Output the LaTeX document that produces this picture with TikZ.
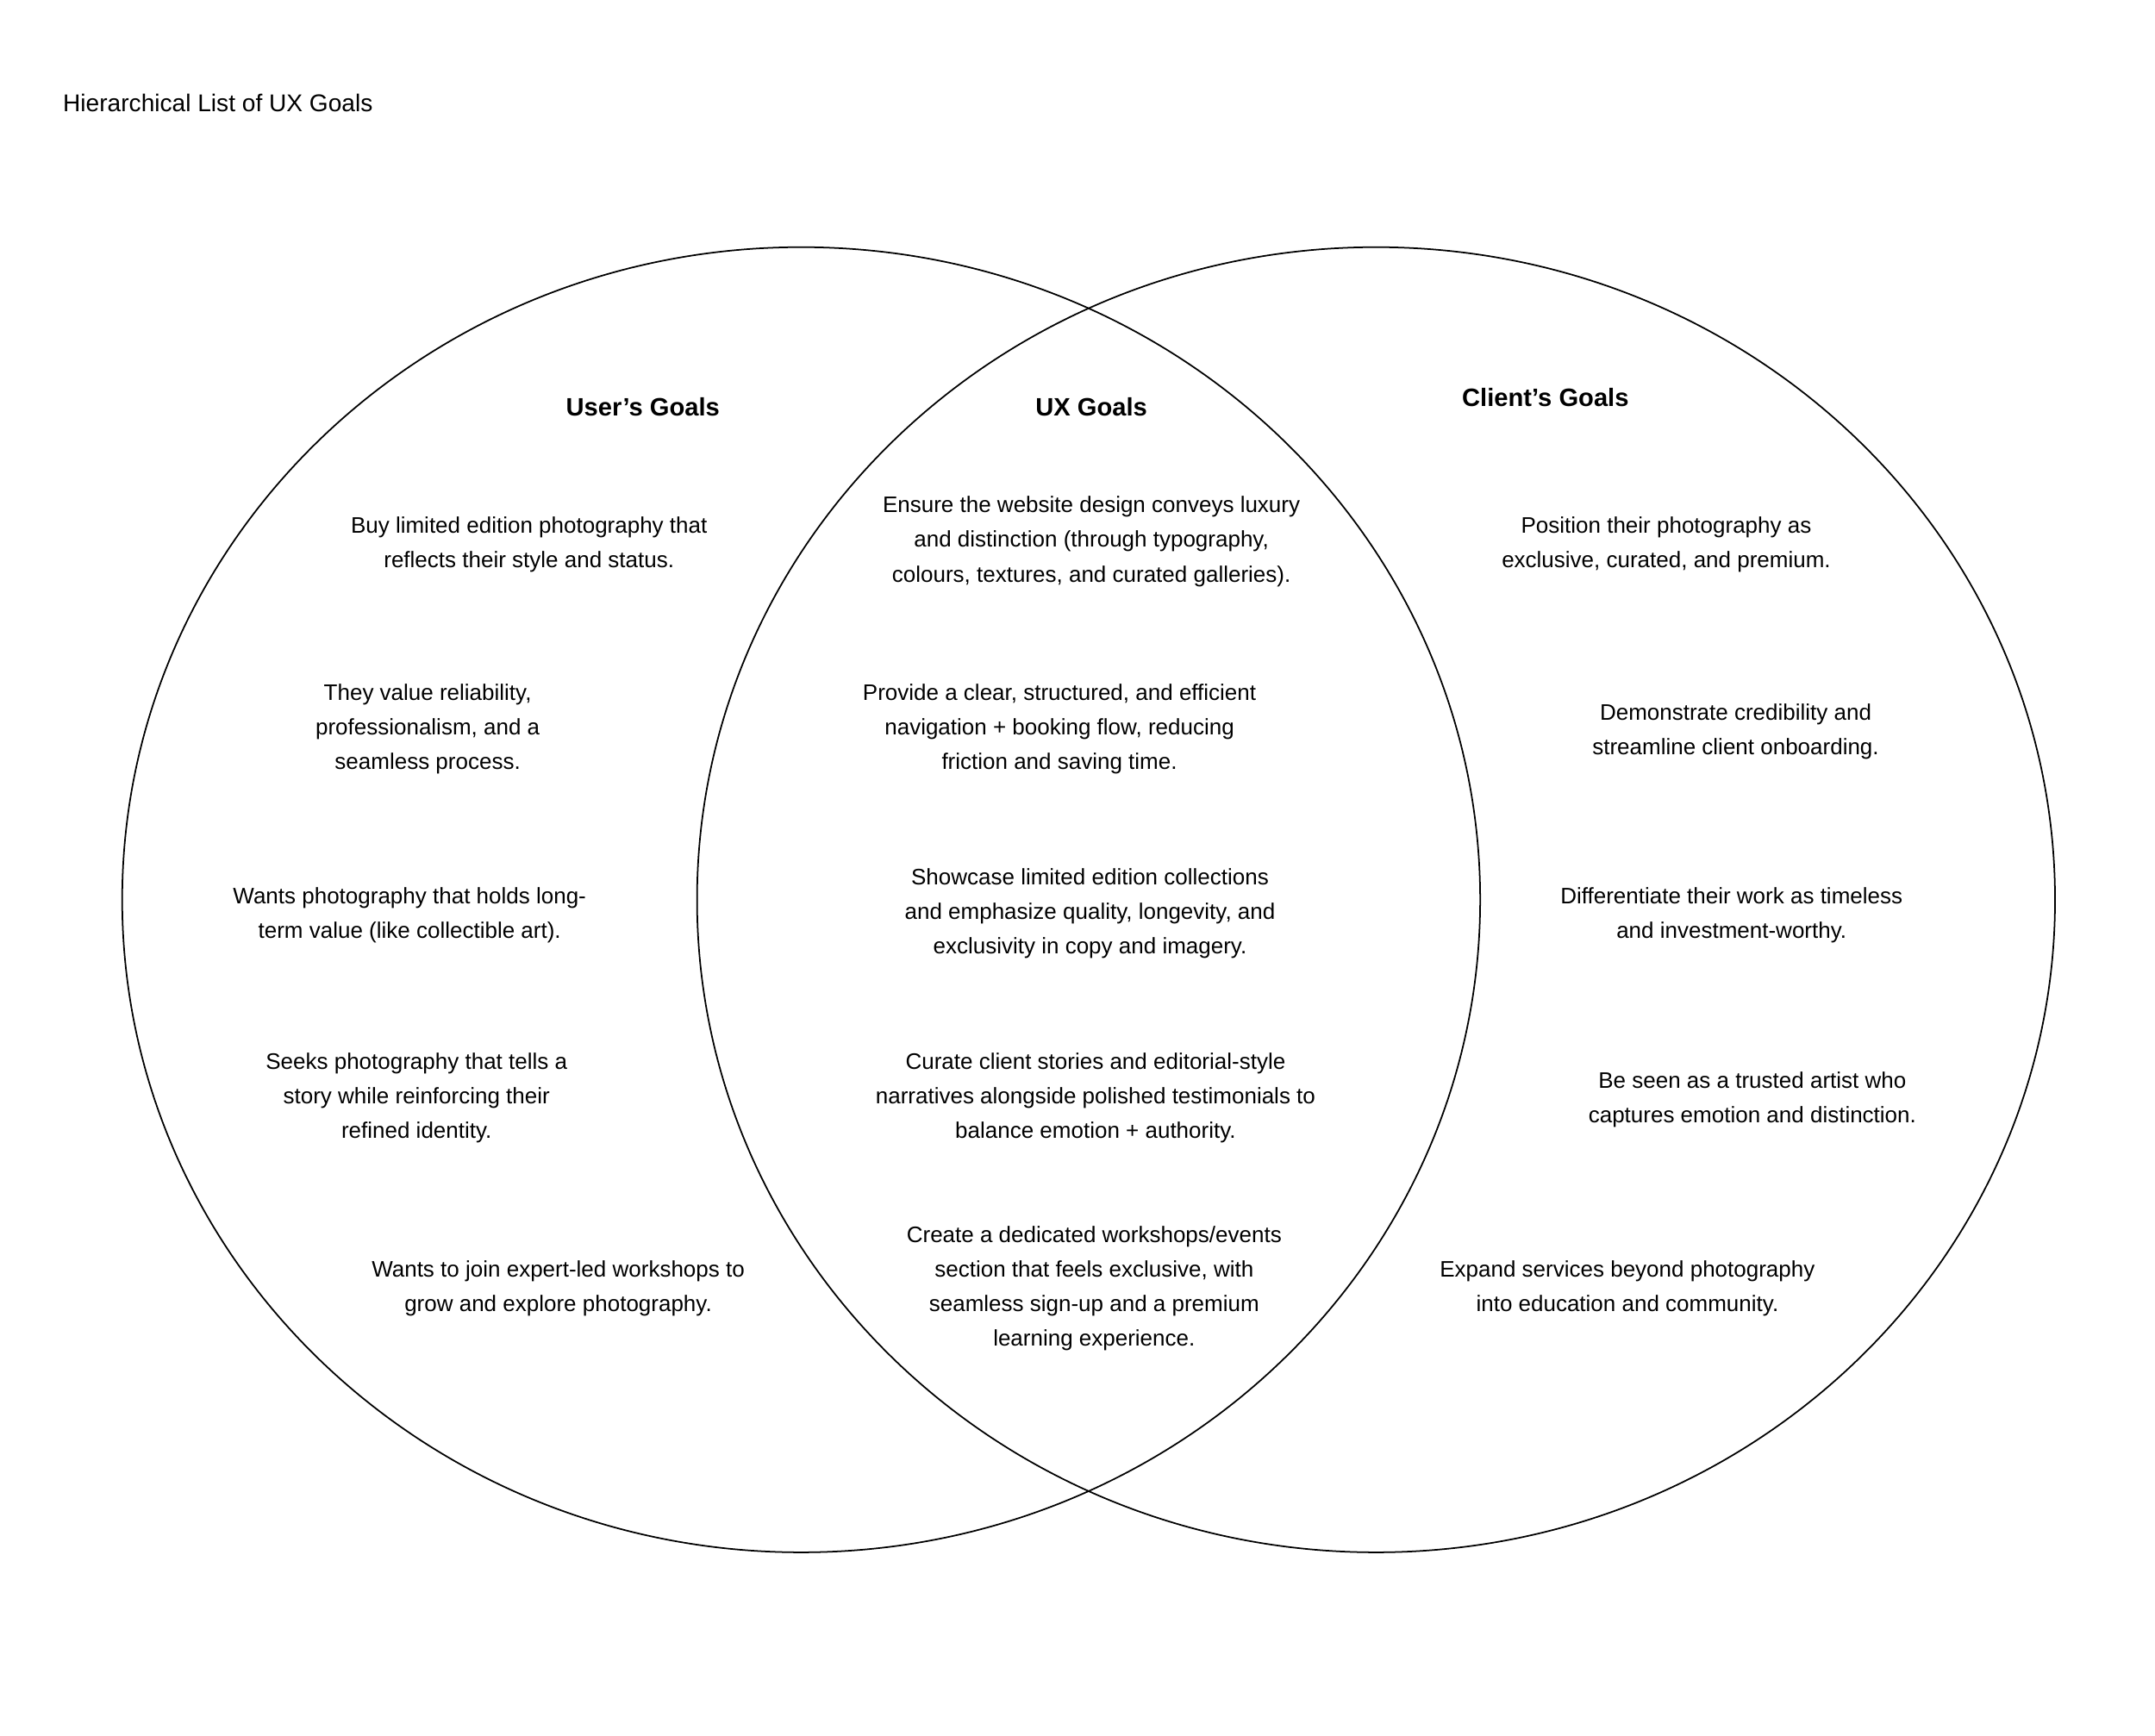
\documentclass[tikz,border=0pt]{standalone}
\usepackage{fontspec}
\setmainfont{Liberation Sans}
\begin{document}
\begin{tikzpicture}[x=0.016108cm,y=-0.016108cm,
  txt/.style={align=center,font=\fontsize{7.4pt}{11.4pt}\selectfont,inner sep=0pt},
  head/.style={font=\fontsize{8.3pt}{10pt}\selectfont\bfseries,inner sep=0pt},
  ring/.style={draw=black,line width=0.5pt}]
\useasboundingbox[fill=white] (0,0) rectangle (1552,1250);
\node[anchor=west,font=\fontsize{8pt}{10pt}\selectfont,inner sep=0pt] (title) at (45,74) {Hierarchical List of UX Goals};
\draw[ring] (577,648) ellipse [x radius=489, y radius=470];
\draw[ring] (991,648) ellipse [x radius=489, y radius=470];
\node[head] (hu) at (463,293) {User’s Goals};
\node[head] (hx) at (786,293) {UX Goals};
\node[head] (hc) at (1113,286) {Client’s Goals};
\node[txt] (u1) at (381,392) {Buy limited edition photography that\\reflects their style and status.};
\node[txt] (u2) at (308,525) {They value reliability,\\professionalism, and a\\seamless process.};
\node[txt] (u3) at (295,659) {Wants photography that holds long-\\term value (like collectible art).};
\node[txt] (u4) at (300,791) {Seeks photography that tells a\\story while reinforcing their\\refined identity.};
\node[txt] (u5) at (402,928) {Wants to join expert-led workshops to\\grow and explore photography.};
\node[txt] (x1) at (786,390) {Ensure the website design conveys luxury\\and distinction (through typography,\\colours, textures, and curated galleries).};
\node[txt] (x2) at (763,525) {Provide a clear, structured, and efficient\\navigation + booking flow, reducing\\friction and saving time.};
\node[txt] (x3) at (785,658) {Showcase limited edition collections\\and emphasize quality, longevity, and\\exclusivity in copy and imagery.};
\node[txt] (x4) at (789,791) {Curate client stories and editorial-style\\narratives alongside polished testimonials to\\balance emotion + authority.};
\node[txt] (x5) at (788,928) {Create a dedicated workshops/events\\section that feels exclusive, with\\seamless sign-up and a premium\\learning experience.};
\node[txt] (c1) at (1200,392) {Position their photography as\\exclusive, curated, and premium.};
\node[txt] (c2) at (1250,527) {Demonstrate credibility and\\streamline client onboarding.};
\node[txt] (c3) at (1247,659) {Differentiate their work as timeless\\and investment-worthy.};
\node[txt] (c4) at (1262,792) {Be seen as a trusted artist who\\captures emotion and distinction.};
\node[txt] (c5) at (1172,928) {Expand services beyond photography\\into education and community.};
\end{tikzpicture}
\end{document}
